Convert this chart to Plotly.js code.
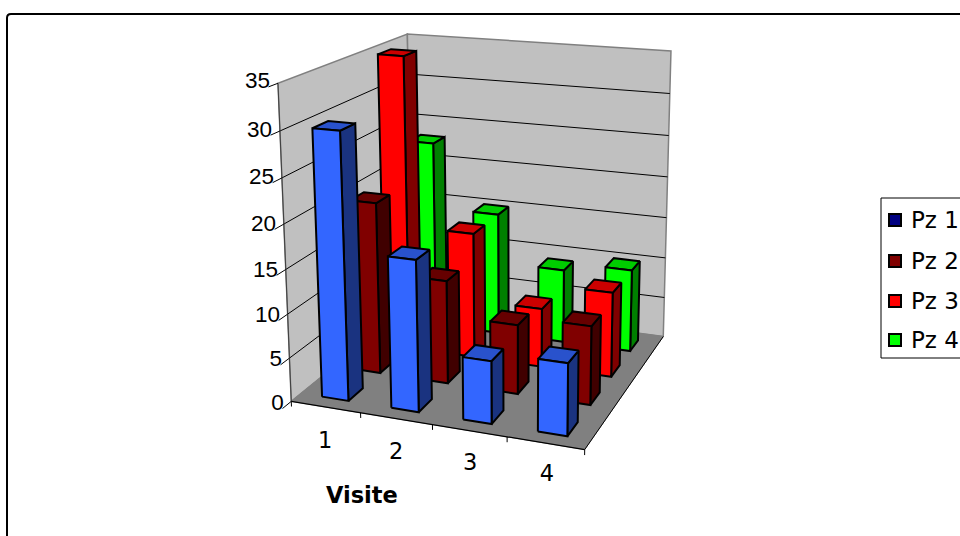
<!DOCTYPE html>
<html>
<head>
<meta charset="utf-8">
<script src="https://cdn.plot.ly/plotly-3.0.1.min.js"></script>
<style>html,body{margin:0;padding:0;background:#fff;overflow:hidden}#chart{width:960px;height:536px}</style>
</head>
<body>
<div id="chart"></div>
<script>
// Visits per patient
const visits = ['1', '2', '3', '4'];
const seriesNames = ['Pz 1', 'Pz 2', 'Pz 3', 'Pz 4'];
const pz1 = [30, 17, 7, 8];
const pz2 = [20, 12, 8, 9];
const pz3 = [35, 15, 7, 10];
const pz4 = [23, 15, 9, 10];
const valueTicks = [0, 5, 10, 15, 20, 25, 30, 35];

const allSeries = [pz1, pz2, pz3, pz4];
const frontColors = ['#3366FF', '#800000', '#FF0000', '#00FF00'];
const topColors = ['#2952CC', '#660000', '#CC0000', '#00CC00'];
const sideColors = ['#1A3380', '#400000', '#800000', '#008000'];
const legendColors = ['#000080', '#800000', '#FF0000', '#00FF00'];

const maxValue = 35;
const barWidth = 0.385;  // share of one visit slot
const barDepth = 0.44;   // share of one patient row

// Camera calibration: box corners (visit, depth, value) and where they land on the page
const calibration = [
  [0, 0, 0, 290, 404], [4, 0, 0, 585, 447], [4, 1, 0, 662.5, 339.5], [0, 1, 0, 414, 300],
  [0, 0, 35, 279, 83], [0, 1, 35, 406, 35], [4, 1, 35, 671.5, 50]
];

function solveCamera(rows) {
  const A = [], b = [];
  rows.forEach(([x, y, z, u, v]) => {
    A.push([x, y, z, 1, 0, 0, 0, 0, -u * x, -u * y, -u * z]); b.push(u);
    A.push([0, 0, 0, 0, x, y, z, 1, -v * x, -v * y, -v * z]); b.push(v);
  });
  const n = 11, M = [];
  for (let i = 0; i < n; i++) {
    M.push([]);
    for (let j = 0; j < n; j++) M[i].push(A.reduce((s, r) => s + r[i] * r[j], 0));
    M[i].push(A.reduce((s, r, k) => s + r[i] * b[k], 0));
  }
  for (let c = 0; c < n; c++) {
    let p = c;
    for (let r = c + 1; r < n; r++) if (Math.abs(M[r][c]) > Math.abs(M[p][c])) p = r;
    [M[c], M[p]] = [M[p], M[c]];
    for (let r = 0; r < n; r++) {
      if (r === c) continue;
      const f = M[r][c] / M[c][c];
      for (let k = c; k <= n; k++) M[r][k] -= f * M[c][k];
    }
  }
  return M.map((r, i) => r[n] / r[i]);
}
const cam = solveCamera(calibration.map(([x, y, z, u, v]) => [x / 4, y, z / maxValue, u, v]));

function project(x, y, z) {
  const X = x / 4, Z = z / maxValue;
  const w = cam[8] * X + cam[9] * y + cam[10] * Z + 1;
  return [(cam[0] * X + cam[1] * y + cam[2] * Z + cam[3]) / w,
          (cam[4] * X + cam[5] * y + cam[6] * Z + cam[7]) / w];
}

const traces = [];
function polygon(points, fillcolor, lineColor, lineWidth) {
  const pts = points.map(p => project(p[0], p[1], p[2]));
  pts.push(pts[0]);
  traces.push({
    type: 'scatter', mode: 'lines', x: pts.map(p => p[0]), y: pts.map(p => p[1]),
    fill: 'toself', fillcolor, line: { color: lineColor, width: lineWidth, simplify: false },
    hoverinfo: 'skip', showlegend: false
  });
}
function segment(a, b, color, width) {
  const p = project(a[0], a[1], a[2]), q = project(b[0], b[1], b[2]);
  traces.push({
    type: 'scatter', mode: 'lines', x: [p[0], q[0]], y: [p[1], q[1]],
    line: { color, width }, hoverinfo: 'skip', showlegend: false
  });
}

// Walls and floor
polygon([[0, 0, 0], [0, 1, 0], [0, 1, maxValue], [0, 0, maxValue]], '#C0C0C0', '#808080', 1.5);
polygon([[0, 1, 0], [4, 1, 0], [4, 1, maxValue], [0, 1, maxValue]], '#C0C0C0', '#808080', 1.5);
valueTicks.slice(1, -1).forEach(v => {
  segment([0, 0, v], [0, 1, v], '#000', 1);
  segment([0, 1, v], [4, 1, v], '#000', 1);
});
polygon([[0, 0, 0], [4, 0, 0], [4, 1, 0], [0, 1, 0]], '#808080', '#808080', 1);

// Axis lines and tick marks
segment([0, 0, 0], [0, 0, maxValue], '#404040', 1);
segment([0, 0, 0], [4, 0, 0], '#000', 1.2);
segment([4, 0, 0], [4, 1, 0], '#000', 1);
valueTicks.forEach(v => segment([0, 0, v], [0, -0.06, v], '#000', 1));
[0, 1, 2, 3, 4].forEach(i => segment([i, 0, 0], [i, 0, -0.6], '#000', 1));

// Bars, painted from the back row to the front row
for (let s = allSeries.length - 1; s >= 0; s--) {
  allSeries[s].forEach((value, i) => {
    const x0 = i + (1 - barWidth) / 2, x1 = x0 + barWidth;
    const rowDepth = 1 / allSeries.length;
    const y0 = s * rowDepth + rowDepth * (1 - barDepth) / 2, y1 = y0 + rowDepth * barDepth;
    polygon([[x1, y0, 0], [x1, y1, 0], [x1, y1, value], [x1, y0, value]], sideColors[s], '#000', 2);
    polygon([[x0, y0, value], [x1, y0, value], [x1, y1, value], [x0, y1, value]], topColors[s], '#000', 2);
    polygon([[x0, y0, 0], [x1, y0, 0], [x1, y0, value], [x0, y0, value]], frontColors[s], '#000', 2);
  });
}

// Tick labels
const tickAnchors = valueTicks.map(v => project(0, -0.05, v + 0.35));
traces.push({
  type: 'scatter', mode: 'text', x: tickAnchors.map(p => p[0]), y: tickAnchors.map(p => p[1]),
  text: valueTicks.map(String), textposition: 'middle left', cliponaxis: false,
  textfont: { family: 'Liberation Sans, Arial, sans-serif', size: 22.5, color: '#000' },
  hoverinfo: 'skip', showlegend: false
});
const visitAnchors = visits.map((_, i) => project(0.83 + 0.97 * i, -0.17, -1.2 + 0.2 * i));
traces.push({
  type: 'scatter', mode: 'text', x: visitAnchors.map(p => p[0]), y: visitAnchors.map(p => p[1]),
  text: visits, textposition: 'middle center', cliponaxis: false,
  textfont: { family: 'DejaVu Sans, sans-serif', size: 22.5, color: '#000' },
  hoverinfo: 'skip', showlegend: false
});

// Legend entries
const legendRowY = [220, 261, 301, 340];
seriesNames.forEach((name, s) => {
  traces.push({
    type: 'scatter', mode: 'markers', name, x: [895], y: [legendRowY[s]],
    marker: { symbol: 'square', size: 12, color: legendColors[s], line: { color: '#000', width: 2 } },
    hoverinfo: 'skip', showlegend: false
  });
  traces.push({
    type: 'scatter', mode: 'text', x: [911], y: [legendRowY[s] + 2], text: [name],
    textposition: 'middle right', cliponaxis: false,
    textfont: { family: 'DejaVu Sans, sans-serif', size: 23, color: '#000' },
    hoverinfo: 'skip', showlegend: false
  });
});

const layout = {
  width: 960, height: 536, margin: { l: 0, r: 0, t: 0, b: 0 },
  paper_bgcolor: '#fff', plot_bgcolor: '#fff', showlegend: false,
  xaxis: { range: [0, 960], visible: false, fixedrange: true },
  yaxis: { range: [536, 0], visible: false, fixedrange: true },
  shapes: [
    { type: 'path', xref: 'x', yref: 'y', path: 'M 7 560 L 7 18 Q 7 14 11 14 L 990 14',
      line: { color: '#000', width: 2 }, layer: 'below' },
    { type: 'rect', xref: 'x', yref: 'y', x0: 881, y0: 198, x1: 990, y1: 358,
      fillcolor: '#fff', line: { color: '#000', width: 1 }, layer: 'below' }
  ],
  annotations: [{
    text: '<b>Visite</b>', xref: 'x', yref: 'y', x: 362, y: 495, showarrow: false,
    font: { family: 'DejaVu Sans, sans-serif', size: 22.5, color: '#000' }
  }]
};
Plotly.newPlot('chart', traces, layout, { displayModeBar: false, staticPlot: true });
</script>
</body>
</html>
